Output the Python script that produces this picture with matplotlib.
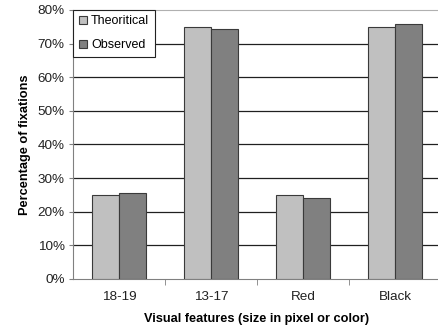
import numpy as np
import matplotlib
matplotlib.use("Agg")
import matplotlib.pyplot as plt
from matplotlib.ticker import PercentFormatter

plt.rcParams['font.family'] = ['Liberation Sans', 'DejaVu Sans']

categories = ['18-19', '13-17', 'Red', 'Black']
theoretical = [25.0, 75.0, 25.0, 75.0]
observed = [25.6, 74.4, 24.2, 75.8]

fig = plt.figure(figsize=(4.38, 3.29), dpi=100)
ax = fig.add_axes([0.1667, 0.152, 0.84, 0.818])

x = np.arange(len(categories))
w = 0.29
ax.bar(x - w / 2, theoretical, w, color='#c0c0c0', edgecolor='#3a3a3a',
       linewidth=0.8, label='Theoritical', zorder=3)
ax.bar(x + w / 2, observed, w, color='#808080', edgecolor='#3a3a3a',
       linewidth=0.8, label='Observed', zorder=3)

ax.set_xlim(-0.5, len(categories) - 0.5)
ax.set_ylim(0, 80)
ax.set_yticks(np.arange(0, 81, 10))
ax.yaxis.set_major_formatter(PercentFormatter(decimals=0))
for yv in range(10, 80, 10):
    ax.axhline(yv, color='#202020', linewidth=0.9, zorder=1)

ax.set_xticks(x)
ax.set_xticklabels(categories)
ax.set_xticks(np.arange(0.5, len(categories) - 0.5, 1), minor=True)
ax.tick_params(axis='x', which='major', length=0, pad=9, labelsize=9.7, colors='#222222')
ax.tick_params(axis='x', which='minor', length=4, direction='out', color='#808080')
ax.tick_params(axis='y', length=3, direction='out', labelsize=9.7, colors='#222222',
               color='#808080', pad=3)

for side in ['left', 'bottom']:
    ax.spines[side].set_color('#808080')
ax.spines['top'].set_color('#b0b0b0')
ax.spines['right'].set_visible(False)

ax.set_ylabel('Percentage of fixations', fontsize=9.2, fontweight='bold', labelpad=5)
ax.set_xlabel('Visual features (size in pixel or color)', fontsize=9.2,
              fontweight='bold', labelpad=7)

leg = ax.legend(loc='upper left', bbox_to_anchor=(0.0, 1.0), fontsize=9,
                handlelength=0.7, handleheight=0.7, handletextpad=0.3,
                borderpad=0.45, labelspacing=0.95, fancybox=False,
                framealpha=1, edgecolor='#222222', borderaxespad=0.0)
leg.get_frame().set_linewidth(0.8)
leg.set_zorder(5)

fig.savefig('out.png', dpi=100)
